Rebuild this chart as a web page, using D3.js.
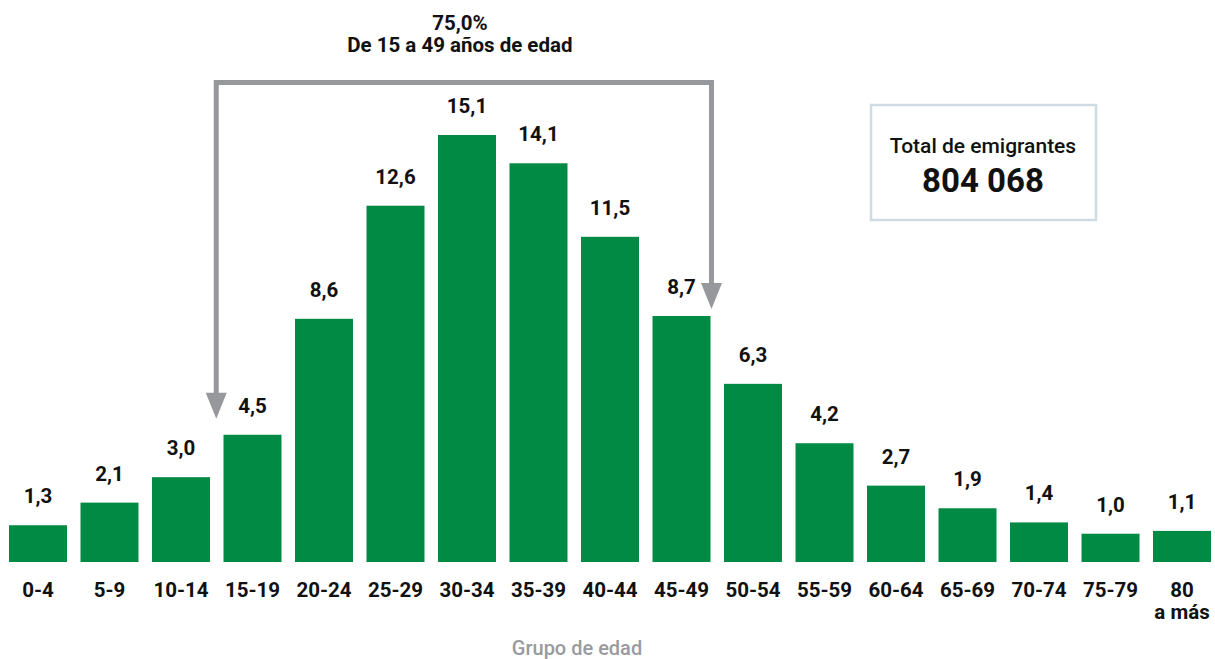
<!DOCTYPE html>
<html>
<head>
<meta charset="utf-8">
<script src="https://cdn.jsdelivr.net/npm/d3@7"></script>
<style>
  html, body { margin: 0; padding: 0; background: #fff; }
  svg { display: block; font-family: Roboto, "Noto Sans", sans-serif; }
</style>
</head>
<body>
<svg id="chart" width="1215" height="659"></svg>
<script>
const categories = ["0-4","5-9","10-14","15-19","20-24","25-29","30-34","35-39","40-44","45-49","50-54","55-59","60-64","65-69","70-74","75-79","80 a más"];
const values = [1.3, 2.1, 3.0, 4.5, 8.6, 12.6, 15.1, 14.1, 11.5, 8.7, 6.3, 4.2, 2.7, 1.9, 1.4, 1.0, 1.1];
const valueLabels = ["1,3","2,1","3,0","4,5","8,6","12,6","15,1","14,1","11,5","8,7","6,3","4,2","2,7","1,9","1,4","1,0","1,1"];
const annotationLines = ["75,0%", "De 15 a 49 años de edad"];
const bracketFrom = "15-19";
const bracketTo = "45-49";
const totalLines = ["Total de emigrantes", "804 068"];
const axisTitle = "Grupo de edad";

const svg = d3.select("#chart");
const barColor = "#008a44";
const grey = "#97989b";
const fs = 20.5;

const x = d3.scaleBand().domain(categories).range([9, 1211]).paddingInner(0.189).paddingOuter(0);
const y = d3.scaleLinear().domain([0, 15.1]).range([562, 135]);

// bars
svg.append("g").selectAll("rect").data(values).join("rect")
  .attr("x", (d, i) => x(categories[i]))
  .attr("y", d => y(d))
  .attr("width", x.bandwidth())
  .attr("height", d => y(0) - y(d))
  .attr("fill", barColor);

// value labels
svg.append("g").selectAll("text").data(values).join("text")
  .attr("x", (d, i) => x(categories[i]) + x.bandwidth() / 2)
  .attr("y", d => y(d) - 22)
  .attr("text-anchor", "middle")
  .attr("font-size", fs)
  .attr("font-weight", 700)
  .attr("fill", "#111")
  .text((d, i) => valueLabels[i]);

// x axis labels
const xAxis = d3.axisBottom(x).tickSize(0).tickPadding(0);
const gx = svg.append("g").attr("transform", `translate(0, ${y(0)})`).call(xAxis);
gx.select(".domain").remove();
gx.selectAll(".tick text").each(function(d) {
  const t = d3.select(this);
  t.text(null).attr("y", 0).attr("dy", null)
    .attr("font-size", fs).attr("font-weight", 700).attr("fill", "#111")
    .attr("font-family", "Roboto, sans-serif");
  const parts = d.split(" ");
  if (parts.length > 1 && parts[0] === "80") {
    t.append("tspan").attr("x", 0).attr("y", 35).text(parts[0]);
    t.append("tspan").attr("x", 0).attr("y", 57).text(parts.slice(1).join(" "));
  } else {
    t.append("tspan").attr("x", 0).attr("y", 35).text(d);
  }
});

// axis title
svg.append("text")
  .attr("x", 577).attr("y", 655)
  .attr("text-anchor", "middle")
  .attr("font-size", 20).attr("font-weight", 500)
  .attr("fill", "#999a9e")
  .text(axisTitle);

// bracket annotation
const xl = x(bracketFrom) - (x.step() - x.bandwidth()) / 2 - 0.5;
const xr = x(bracketTo) + x.bandwidth() + 1;
const yTop = 82.5;
const iFrom = categories.indexOf(bracketFrom), iTo = categories.indexOf(bracketTo);
const tipL = y(values[iFrom]) - 16;
const tipR = y(values[iTo]) - 7;
const headH = 26, headW = 21;

svg.append("path")
  .attr("d", `M${xl},${tipL - headH + 2} L${xl},${yTop} L${xr},${yTop} L${xr},${tipR - headH + 2}`)
  .attr("fill", "none").attr("stroke", grey).attr("stroke-width", 5);

[[xl, tipL], [xr, tipR]].forEach(([cx, ty]) => {
  svg.append("path")
    .attr("d", `M${cx - headW / 2},${ty - headH} L${cx + headW / 2},${ty - headH} L${cx},${ty} Z`)
    .attr("fill", grey);
});

const midX = (xl + xr) / 2 - 4;
svg.append("text").attr("x", midX).attr("y", 30)
  .attr("text-anchor", "middle").attr("font-size", fs).attr("font-weight", 700).attr("fill", "#111")
  .text(annotationLines[0]);
svg.append("text").attr("x", midX).attr("y", 52)
  .attr("text-anchor", "middle").attr("font-size", fs).attr("font-weight", 700).attr("fill", "#111")
  .text(annotationLines[1]);

// total box
svg.append("rect")
  .attr("x", 871).attr("y", 105).attr("width", 225).attr("height", 115)
  .attr("fill", "#fff").attr("stroke", "#cfdce2").attr("stroke-width", 2.5);
svg.append("text").attr("x", 983).attr("y", 153)
  .attr("text-anchor", "middle").attr("font-size", 21).attr("font-weight", 500).attr("fill", "#111")
  .text(totalLines[0]);
svg.append("text").attr("x", 983).attr("y", 192)
  .attr("text-anchor", "middle").attr("font-size", 33).attr("font-weight", 700).attr("fill", "#111")
  .text(totalLines[1]);
</script>
</body>
</html>
